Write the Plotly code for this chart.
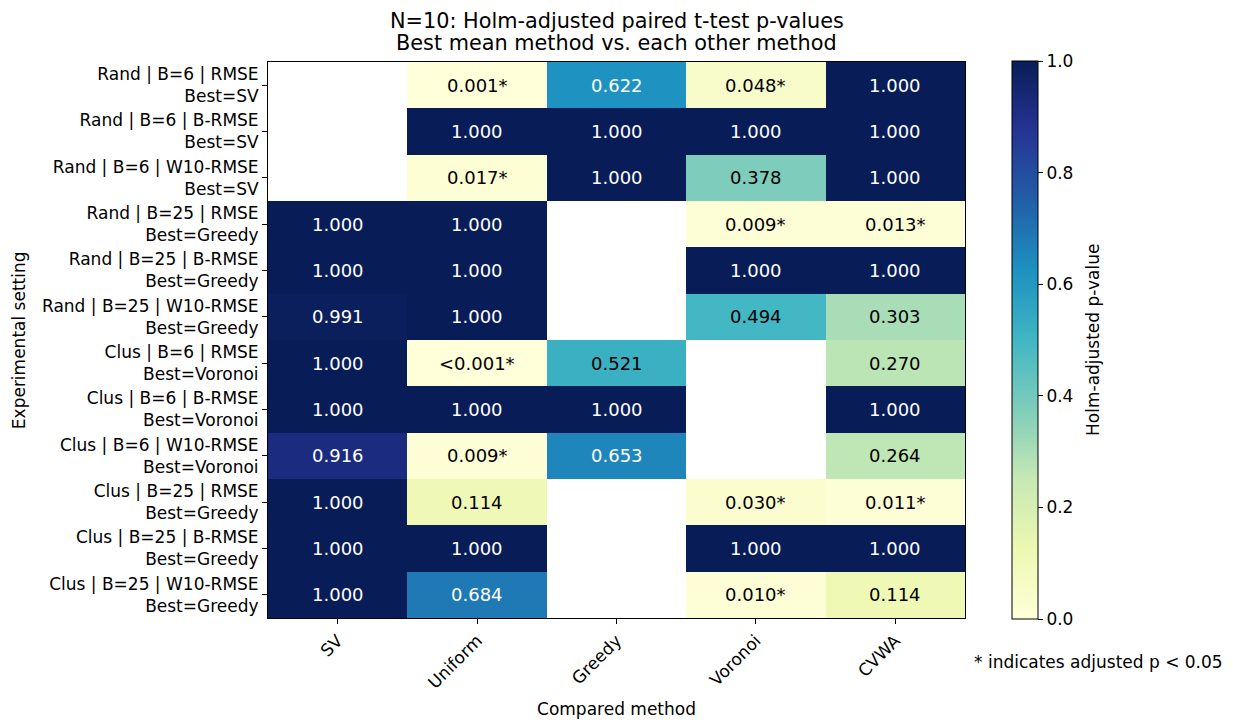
import plotly.graph_objects as go

# Data ------------------------------------------------------------------------
methods = ['SV', 'Uniform', 'Greedy', 'Voronoi', 'CVWA']
settings = [
    'Rand | B=6 | RMSE', 'Rand | B=6 | B-RMSE', 'Rand | B=6 | W10-RMSE',
    'Rand | B=25 | RMSE', 'Rand | B=25 | B-RMSE', 'Rand | B=25 | W10-RMSE',
    'Clus | B=6 | RMSE', 'Clus | B=6 | B-RMSE', 'Clus | B=6 | W10-RMSE',
    'Clus | B=25 | RMSE', 'Clus | B=25 | B-RMSE', 'Clus | B=25 | W10-RMSE',
]
best = [
    'SV', 'SV', 'SV', 'Greedy', 'Greedy', 'Greedy',
    'Voronoi', 'Voronoi', 'Voronoi', 'Greedy', 'Greedy', 'Greedy',
]
pvals = [
    [None, 0.001, 0.622, 0.048, 1.000],
    [None, 1.000, 1.000, 1.000, 1.000],
    [None, 0.017, 1.000, 0.378, 1.000],
    [1.000, 1.000, None, 0.009, 0.013],
    [1.000, 1.000, None, 1.000, 1.000],
    [0.991, 1.000, None, 0.494, 0.303],
    [1.000, 0.0004, 0.521, None, 0.270],
    [1.000, 1.000, 1.000, None, 1.000],
    [0.916, 0.009, 0.653, None, 0.264],
    [1.000, 0.114, None, 0.030, 0.011],
    [1.000, 1.000, None, 1.000, 1.000],
    [1.000, 0.684, None, 0.010, 0.114],
]
cbar_ticks = [0.0, 0.2, 0.4, 0.6, 0.8, 1.0]
title_lines = ['N=10: Holm-adjusted paired t-test p-values',
               'Best mean method vs. each other method']

# matplotlib YlGnBu -----------------------------------------------------------
ylgnbu = ['#ffffd9', '#edf8b1', '#c7e9b4', '#7fcdbb', '#41b6c4',
          '#1d91c0', '#225ea8', '#253494', '#081d58']
cscale = [[i / (len(ylgnbu) - 1), c] for i, c in enumerate(ylgnbu)]

FONT = 'DejaVu Sans'
FS = 17
ylabels = ['{}<br>Best={}'.format(s, b) for s, b in zip(settings, best)]

fig = go.Figure(go.Heatmap(
    z=pvals, x=methods, y=ylabels,
    colorscale=cscale, zmin=0, zmax=1,
    hoverongaps=False,
    colorbar=dict(
        x=1.0674, xanchor='left', xref='paper', xpad=0, ypad=0,
        y=0.5, yanchor='middle', len=1.004, lenmode='fraction',
        thickness=26, outlinewidth=1, outlinecolor='black',
        ticks='outside', ticklen=5, tickcolor='black',
        tickvals=cbar_ticks, ticktext=['{:.1f}'.format(t) for t in cbar_ticks],
        tickfont=dict(family=FONT, size=FS, color='black'),
    ),
))

# cell annotations ------------------------------------------------------------
for i, row in enumerate(pvals):
    for j, p in enumerate(row):
        if p is None:
            continue
        if p < 0.001:
            txt = '<0.001*'
        else:
            txt = '{:.3f}'.format(p) + ('*' if p < 0.05 else '')
        fig.add_annotation(
            x=methods[j], y=ylabels[i], text=txt, showarrow=False,
            font=dict(family=FONT, size=18,
                      color='white' if p > 0.6 else 'black'),
        )

# title (two lines, tighter spacing than plotly's <br>) -----------------------
for k, line in enumerate(title_lines):
    fig.add_annotation(
        xref='paper', yref='paper', x=0.5, y=1, xanchor='center',
        yanchor='middle', yshift=41 - 22 * k, showarrow=False, text=line,
        font=dict(family=FONT, size=20.8, color='black'),
    )
# y axis title ----------------------------------------------------------------
fig.add_annotation(
    xref='paper', yref='paper', x=-0.357, y=0.5, xanchor='center',
    yanchor='middle', textangle=-90, showarrow=False,
    text='Experimental setting', font=dict(family=FONT, size=FS, color='black'),
)
# colorbar title --------------------------------------------------------------
fig.add_annotation(
    xref='paper', yref='paper', x=1.1836, y=0.5, xanchor='center',
    yanchor='middle', textangle=-90, showarrow=False,
    text='Holm-adjusted p-value', font=dict(family=FONT, size=FS, color='black'),
)
# footnote --------------------------------------------------------------------
fig.add_annotation(
    xref='paper', yref='paper', x=1.01, y=-0.079, xanchor='left',
    yanchor='middle', text='* indicates adjusted p < 0.05', showarrow=False,
    font=dict(family=FONT, size=FS, color='black'),
)

fig.update_layout(
    width=1225, height=720,
    margin=dict(l=260, r=268, t=54, b=110),
    paper_bgcolor='white', plot_bgcolor='white',
    font=dict(family=FONT, size=FS, color='black'),
    xaxis=dict(
        title=dict(text='Compared method', standoff=11,
                   font=dict(family=FONT, size=FS)),
        tickangle=-45, ticks='outside', ticklen=5, tickcolor='black',
        tickfont=dict(family=FONT, size=FS),
        showline=True, linecolor='black', linewidth=1, mirror=True,
        showgrid=False, zeroline=False,
    ),
    yaxis=dict(
        autorange='reversed', ticks='outside', ticklen=5, tickcolor='black',
        tickfont=dict(family=FONT, size=FS),
        showline=True, linecolor='black', linewidth=1, mirror=True,
        showgrid=False, zeroline=False,
    ),
)

fig.write_html('out.html')
